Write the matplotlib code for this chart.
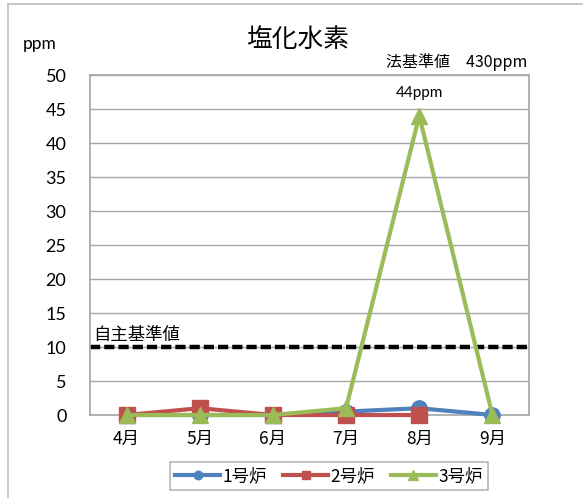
import numpy as np
import matplotlib
matplotlib.use("Agg")
import matplotlib.pyplot as plt
from matplotlib.lines import Line2D

plt.rcParams['font.family'] = ['Lato', 'Noto Sans CJK JP', 'DejaVu Sans']

months = ['4月', '5月', '6月', '7月', '8月', '9月']
unit1 = [0, 0, 0, 0.5, 1, 0]
unit2 = [0, 1, 0, 0, 0, np.nan]
unit3 = [0, 0, 0, 1, 44, 0]
series_names = ['1号炉', '2号炉', '3号炉']
self_standard = 10
legal_standard_label = '法基準値\u3000430ppm'
peak_label = '44ppm'

fig = plt.figure(figsize=(5.87, 4.98), dpi=100)
W, H = 587, 498
ax = fig.add_axes([90 / W, 1 - 415 / H, (529 - 90) / W, (415 - 75) / H])

# outer chart frame (top and left edges)
frame_col = '#BFBFBF'
fig.add_artist(Line2D([8 / W, 582 / W], [1 - 4 / H, 1 - 4 / H], color=frame_col, lw=1.2))
fig.add_artist(Line2D([8 / W, 8 / W], [1 - 4 / H, 0], color=frame_col, lw=1.2))

x = np.arange(len(months))
styles = [
    (unit1, '#4F81BD', 'o', 11),
    (unit2, '#C0504D', 's', 11),
    (unit3, '#9BBB59', '^', 12),
]
handles = []
for (vals, col, mk, ms), name in zip(styles, series_names):
    h, = ax.plot(x, vals, color=col, lw=3, marker=mk, markersize=ms,
                 label=name, clip_on=False, zorder=3)
    handles.append(h)

ax.axhline(self_standard, color='black', lw=3.2, ls=(0, (2.3, 0.9)),
           dash_capstyle='butt', zorder=2.5)

ax.set_xlim(-0.5, len(months) - 0.5)
ax.set_ylim(0, 50)
ax.set_yticks(np.arange(0, 51, 5))
ax.set_xticks(x)
ax.set_xticklabels(months, fontsize=12.5, family=['Noto Sans CJK JP'])
ax.tick_params(axis='y', length=0, pad=17, labelsize=13)
ax.tick_params(axis='x', length=0, pad=11)
ax.grid(axis='y', color='#A6A6A6', lw=1)
ax.set_axisbelow(True)
for s in ax.spines.values():
    s.set_color('#A6A6A6')
    s.set_linewidth(1.2)

fig.text(298 / W, 1 - 40 / H, '塩化水素', fontsize=18.5, ha='center', va='center',
         family=['Noto Sans CJK JP'])
fig.text(23 / W, 1 - 44 / H, 'ppm', fontsize=12.5, ha='left', va='center')
fig.text(527 / W, 1 - 62 / H, legal_standard_label, fontsize=11.5, ha='right', va='center',
         family=['Noto Sans CJK JP', 'Lato'])
ax.text(4, 47.3, peak_label, fontsize=11, ha='center', va='center')
ax.text(-0.45, 11.7, '自主基準値', fontsize=12.5, ha='left', va='center',
        family=['Noto Sans CJK JP'])

leg = fig.legend(handles=handles, loc='center', bbox_to_anchor=(329 / W, 1 - 476 / H),
                 ncol=3, frameon=True, fancybox=False, edgecolor='#A6A6A6',
                 markerscale=0.55, handlelength=2.6, columnspacing=0.9,
                 handletextpad=0.15, borderpad=0.3,
                 prop={'family': ['Noto Sans CJK JP'], 'size': 12.5})
leg.get_frame().set_linewidth(1.2)

fig.savefig('out.png', dpi=100)
